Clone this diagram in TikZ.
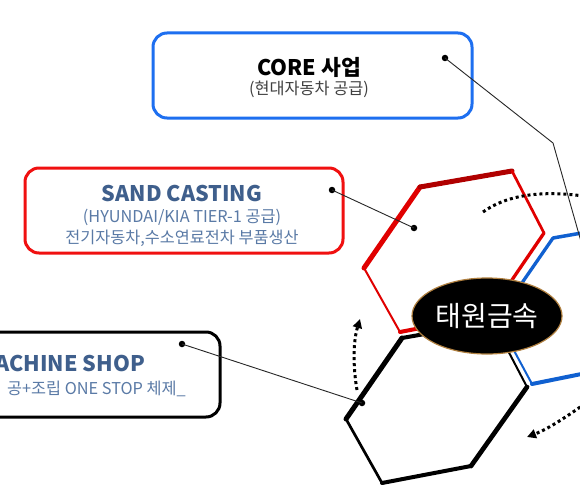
\documentclass[tikz,border=0pt]{standalone}
\usepackage{fontspec}
\setmainfont{Noto Sans CJK KR}
\usetikzlibrary{shapes.geometric,arrows.meta}
\definecolor{boxblue}{HTML}{1E6FF0}
\definecolor{boxred}{HTML}{F01010}
\definecolor{steel}{HTML}{3F5F8C}
\definecolor{steellight}{HTML}{5A7AA6}
\definecolor{hexred}{HTML}{E00000}
\definecolor{hexdark}{HTML}{B00000}
\definecolor{hexblue}{HTML}{1060D0}
\definecolor{goldrim}{HTML}{B08040}
\definecolor{subgray}{HTML}{404040}
\begin{document}
\begin{tikzpicture}[x=1pt,y=-1pt,
  infobox/.style={draw, rounded corners=14pt, line width=3pt, fill=white,
    minimum width=318pt, minimum height=85pt, inner sep=0pt},
  titletext/.style={font=\fontsize{21.5}{25}\selectfont\bfseries, inner sep=0pt},
  subtext/.style={font=\fontsize{16.3}{19}\selectfont, inner sep=0pt},
  edge/.style={line cap=round, line join=round},
  dotarc/.style={line width=3pt, dash pattern=on 3pt off 3pt,
    -{Triangle[length=9pt,width=9pt]}},
  dotarcplain/.style={line width=3pt, dash pattern=on 3pt off 3pt},
  lead/.style={draw=black!85, line width=0.9pt},
  leaddot/.style={circle, fill=black, inner sep=0pt, minimum size=6.5pt}
]
\useasboundingbox (0,0) rectangle (580,500);
\clip (0,0) rectangle (580,500);
\fill[white] (0,0) rectangle (580,500);

% hexagon vertices
\coordinate (r1) at (420,187); \coordinate (r2) at (512,171);
\coordinate (r3) at (544,233); \coordinate (r4) at (488,315);
\coordinate (r5) at (400,332); \coordinate (r6) at (364,268);
\coordinate (b1) at (553,238); \coordinate (b2) at (645,222);
\coordinate (b3) at (677,284); \coordinate (b4) at (621,366);
\coordinate (b5) at (532,384); \coordinate (b6) at (497,319);
\coordinate (k1) at (402,338); \coordinate (k2) at (493,322);
\coordinate (k3) at (527,387); \coordinate (k4) at (471,466);
\coordinate (k5) at (382,483); \coordinate (k6) at (346,419);

% blue hexagon
\draw[edge, hexblue, line width=3.3pt] (b6) -- (b1);
\draw[edge, hexblue, line width=3.5pt] (b1) -- (b2);
\draw[edge, hexblue, line width=3pt] (b2) -- (b3) -- (b4);
\draw[edge, hexblue, line width=4pt] (b4) -- (b5);
\draw[edge, hexblue, line width=2pt] (b5) -- (b6);
% black hexagon
\draw[edge, black, line width=5pt] (k6) -- (k1);
\draw[edge, black, line width=4pt] (k1) -- (k2);
\draw[edge, black, line width=2pt] (k2) -- (k3);
\draw[edge, black, line width=4.7pt] (k3) -- (k4);
\draw[edge, black, line width=4pt] (k4) -- (k5);
\draw[edge, black, line width=2.7pt] (k5) -- (k6);
% red hexagon
\draw[edge, hexred, line width=5pt] (r6) -- (r1);
\draw[edge, hexdark, line width=5pt] (r1) -- (r2);
\draw[edge, hexred, line width=2.7pt] (r2) -- (r3);
\draw[edge, hexred, line width=3.3pt] (r3) -- (r4);
\draw[edge, hexred, line width=4pt] (r4) -- (r5);
\draw[edge, hexred, line width=2pt] (r5) -- (r6);

% centre ellipse
\node[ellipse, fill=black, draw=goldrim, line width=1.2pt, minimum width=150pt,
  minimum height=76pt, inner sep=0pt, text=white,
  font=\fontsize{28}{32}\selectfont] (tw) at (487,316) {태원금속};

% rotating dotted arrows
\coordinate (a1s) at (483,212); \coordinate (a1e) at (590,197);
\draw[dotarcplain] (a1s) .. controls (505,196) and (540,189) .. (a1e);
\coordinate (a2s) at (357,390); \coordinate (a2e) at (360,319);
\draw[dotarc] (a2s) .. controls (353,367) and (353,342) .. (a2e);
\coordinate (a3s) at (590,400); \coordinate (a3e) at (527,437);
\draw[dotarc] (a3s) .. controls (568,416) and (548,429) .. (a3e);

% boxes
\node[infobox, draw=boxblue, minimum width=319pt] (core) at (312.5,75.5) {};
\node[titletext, text=black] (coret) at (309,67) {CORE 사업};
\node[subtext, text=subgray] (cores) at (309,89) {(현대자동차 공급)};

\node[infobox, draw=boxred] (sand) at (184,210.5) {};
\node[titletext, text=steel] (sandt) at (182,193) {SAND CASTING};
\node[subtext, text=steellight] (sands1) at (182,217) {(HYUNDAI/KIA TIER-1 공급)};
\node[subtext, text=steellight] (sands2) at (182,238) {전기자동차,수소연료전차 부품생산};

\node[infobox, draw=black] (mach) at (61,374.5) {};
\node[titletext, text=steel, anchor=east] (macht) at (145,363) {MACHINE SHOP};
\node[subtext, text=steellight, anchor=east] (machs) at (186,389) {공+조립 ONE STOP 체제\_};

% leader lines
\node[leaddot] (cored) at (445,58) {};
\coordinate (corebend) at (553,143);
\coordinate (coreend) at (582,245);
\draw[lead] (cored.center) -- (corebend) -- (coreend);

\node[leaddot] (sandd1) at (332,190) {};
\node[leaddot] (sandd2) at (414,228) {};
\draw[lead] (sandd1.center) -- (sandd2.center);

\node[leaddot] (machd1) at (182,344) {};
\node[leaddot] (machd2) at (362,403) {};
\draw[lead] (machd1.center) -- (machd2.center);
\end{tikzpicture}
\end{document}
